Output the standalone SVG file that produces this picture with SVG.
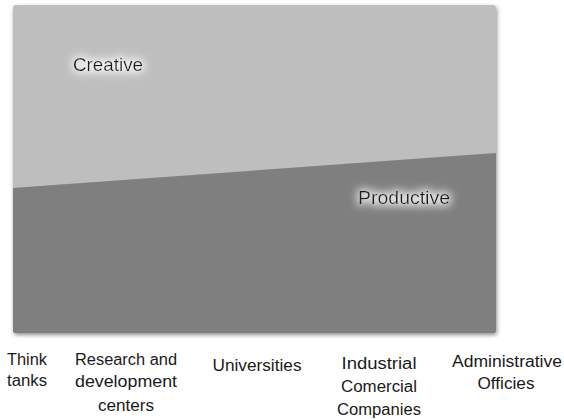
<svg xmlns="http://www.w3.org/2000/svg" width="564" height="419" viewBox="0 0 564 419">
<defs>
<filter id="shadow" x="-5%" y="-5%" width="110%" height="110%">
<feGaussianBlur in="SourceAlpha" stdDeviation="2"/>
<feOffset dx="1" dy="2" result="b"/>
<feComponentTransfer><feFuncA type="linear" slope="0.45"/></feComponentTransfer>
<feMerge><feMergeNode/><feMergeNode in="SourceGraphic"/></feMerge>
</filter>
<filter id="lineshadow" x="-5%" y="-50%" width="110%" height="200%">
<feGaussianBlur stdDeviation="1.2"/>
</filter>
<filter id="glow" x="-30%" y="-80%" width="160%" height="260%">
<feMorphology in="SourceAlpha" operator="dilate" radius="2" result="d"/>
<feGaussianBlur in="d" stdDeviation="4" result="g"/>
<feFlood flood-color="#ffffff" flood-opacity="0.8"/>
<feComposite in2="g" operator="in" result="w"/>
<feMerge><feMergeNode in="w"/><feMergeNode in="SourceGraphic"/></feMerge>
</filter>
<clipPath id="box"><rect x="13" y="5" width="483" height="328" rx="3"/></clipPath>
</defs>
<style>
.lbl{font-family:"Liberation Sans",Arial,sans-serif;font-size:16px;fill:#1a1a1a;text-anchor:middle}
.zone{font-family:"Liberation Sans",Arial,sans-serif;font-size:19px;fill:#1a1a1a}
</style>
<g id="chart">
<rect x="13" y="5" width="483" height="328" rx="3" fill="#bebebe" filter="url(#shadow)"/>
<g clip-path="url(#box)">
<polygon points="13,190 496,155 496,335 13,335" fill="#3a3a3a" filter="url(#lineshadow)"/>
<polygon points="13,188 496,153 496,335 13,335" fill="#7f7f7f"/>
</g>
</g>
<g id="creative"><text class="zone" x="73" y="71" textLength="70" lengthAdjust="spacingAndGlyphs" filter="url(#glow)">Creative</text></g>
<g id="productive"><text class="zone" x="358" y="204" textLength="92" lengthAdjust="spacingAndGlyphs" filter="url(#glow)">Productive</text></g>
<g id="labels">
<g id="think"><text class="lbl" x="27" y="365" textLength="40" lengthAdjust="spacingAndGlyphs">Think</text><text class="lbl" x="27" y="386" textLength="40" lengthAdjust="spacingAndGlyphs">tanks</text></g>
<g id="rd"><text class="lbl" x="126" y="365" textLength="102" lengthAdjust="spacingAndGlyphs">Research and</text><text class="lbl" x="126" y="387" textLength="102" lengthAdjust="spacingAndGlyphs">development</text><text class="lbl" x="126" y="411" textLength="56" lengthAdjust="spacingAndGlyphs">centers</text></g>
<g id="univ"><text class="lbl" x="257" y="371" textLength="89" lengthAdjust="spacingAndGlyphs">Universities</text></g>
<g id="ind"><text class="lbl" x="379" y="369" textLength="75" lengthAdjust="spacingAndGlyphs">Industrial</text><text class="lbl" x="379" y="392" textLength="76" lengthAdjust="spacingAndGlyphs">Comercial</text><text class="lbl" x="379" y="415" textLength="84" lengthAdjust="spacingAndGlyphs">Companies</text></g>
<g id="admin"><text class="lbl" x="507" y="367" textLength="110" lengthAdjust="spacingAndGlyphs">Administrative</text><text class="lbl" x="506" y="389" textLength="57" lengthAdjust="spacingAndGlyphs">Officies</text></g>
</g>
</svg>
